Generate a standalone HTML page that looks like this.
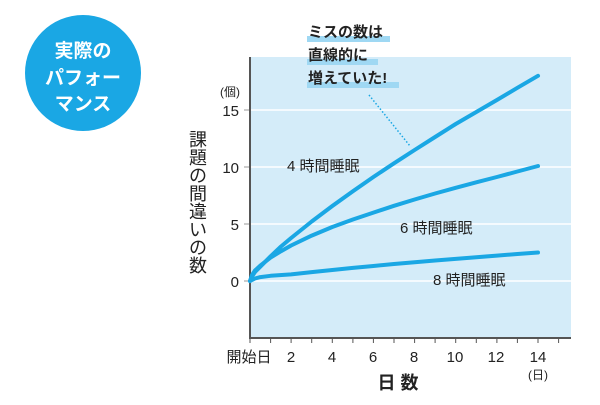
<!DOCTYPE html>
<html><head><meta charset="utf-8"><style>
body{margin:0;background:#fff;width:600px;height:400px;overflow:hidden;font-family:"Liberation Sans","Noto Sans CJK JP",sans-serif}
</style></head><body>
<svg width="600" height="400" xmlns="http://www.w3.org/2000/svg" font-family="Liberation Sans, Noto Sans CJK JP, sans-serif">
<circle cx="83" cy="73" r="58" fill="#1aa7e4"/>
<g fill="#fff" font-size="19" font-weight="bold" text-anchor="middle">
<text x="83" y="57">実際の</text><text x="83" y="84">パフォー</text><text x="83" y="110">マンス</text></g>
<rect x="250" y="57" width="321" height="281" fill="#d4ecf9"/>
<g stroke="#fff" stroke-width="1.5"><line x1="250" y1="110" x2="571" y2="110"/><line x1="250" y1="167" x2="571" y2="167"/><line x1="250" y1="224" x2="571" y2="224"/><line x1="250" y1="281" x2="571" y2="281"/></g>
<g stroke="#999" stroke-width="1"><line x1="244" y1="110" x2="250" y2="110"/><line x1="244" y1="167" x2="250" y2="167"/><line x1="244" y1="224" x2="250" y2="224"/><line x1="244" y1="281" x2="250" y2="281"/></g>
<line x1="250" y1="57" x2="250" y2="339" stroke="#555" stroke-width="2"/>
<line x1="249" y1="338" x2="571" y2="338" stroke="#555" stroke-width="2"/>
<g stroke="#555" stroke-width="1">
<line x1="250" y1="338" x2="250" y2="343"/><line x1="270.6" y1="338" x2="270.6" y2="343"/><line x1="291.1" y1="338" x2="291.1" y2="343"/><line x1="311.7" y1="338" x2="311.7" y2="343"/><line x1="332.3" y1="338" x2="332.3" y2="343"/><line x1="352.9" y1="338" x2="352.9" y2="343"/><line x1="373.4" y1="338" x2="373.4" y2="343"/><line x1="394" y1="338" x2="394" y2="343"/><line x1="414.6" y1="338" x2="414.6" y2="343"/><line x1="435.1" y1="338" x2="435.1" y2="343"/><line x1="455.7" y1="338" x2="455.7" y2="343"/><line x1="476.3" y1="338" x2="476.3" y2="343"/><line x1="496.9" y1="338" x2="496.9" y2="343"/><line x1="517.4" y1="338" x2="517.4" y2="343"/><line x1="538" y1="338" x2="538" y2="343"/><line x1="558.6" y1="338" x2="558.6" y2="343"/></g>
<g font-size="15" fill="#222" text-anchor="end"><text x="239" y="116">15</text><text x="239" y="173">10</text><text x="239" y="230">5</text><text x="239" y="287">0</text></g>
<text x="240" y="96" font-size="12" fill="#222" text-anchor="end">(個)</text>
<g font-size="18" fill="#222" text-anchor="middle"><text x="198" y="146">課</text><text x="198" y="164">題</text><text x="198" y="182">の</text><text x="198" y="200">間</text><text x="198" y="218">違</text><text x="198" y="236">い</text><text x="198" y="254">の</text><text x="198" y="272">数</text></g>
<g font-size="15" fill="#222" text-anchor="middle"><text x="249" y="362">開始日</text><text x="291" y="362">2</text><text x="332" y="362">4</text><text x="373" y="362">6</text><text x="414" y="362">8</text><text x="455" y="362">10</text><text x="496" y="362">12</text><text x="538" y="362">14</text></g>
<text x="538" y="379" font-size="12" fill="#222" text-anchor="middle">(日)</text>
<text x="398" y="389" font-size="18" fill="#222" text-anchor="middle" font-weight="bold">日 数</text>
<g fill="none" stroke="#1aa7e4" stroke-width="4" stroke-linecap="round" stroke-linejoin="round">
<polyline points="250,281 252,276.5 255,272 260.3,266.7 270.6,256.3 281,246.5 291.1,238 311.7,221.5 332.3,206 352.9,191.2 373.4,177 394,163.3 414.6,150 435.1,137 455.7,124 476.3,112 496.9,100 517.4,87.8 538,75.8"/>
<polyline points="250,281 252,275 255,270.5 260.3,265.6 270.6,257.6 281,251.2 291.1,245.5 311.7,235.6 332.3,227 352.9,219.5 373.4,212.6 394,205.8 414.6,199.5 435.1,193.5 455.7,187.8 476.3,182.3 496.9,177 517.4,171.5 538,166"/>
<polyline points="250,281 255,278.5 260.3,277.1 270.6,275.8 291.1,274.4 311.7,272.1 332.3,270 352.9,267.9 373.4,266 394,264 414.6,262.2 435.1,260.5 455.7,258.9 476.3,257.2 496.9,255.6 517.4,254 538,252.5"/>
</g>
<line x1="369" y1="95" x2="410" y2="146" stroke="#1aa7e4" stroke-width="1.5" stroke-dasharray="1.5,2"/>
<g font-size="15" fill="#222"><text x="287" y="171">4 時間睡眠</text><text x="400" y="233">6 時間睡眠</text><text x="433" y="285">8 時間睡眠</text></g>
<g fill="#9fd8f3"><rect x="307" y="36" width="83" height="6"/><rect x="307" y="59" width="71" height="6"/><rect x="307" y="82" width="92" height="6"/></g>
<g font-size="15" font-weight="bold" fill="#222"><text x="308" y="37">ミスの数は</text><text x="308" y="60">直線的に</text><text x="308" y="83">増えていた!</text></g>
</svg>
</body></html>
